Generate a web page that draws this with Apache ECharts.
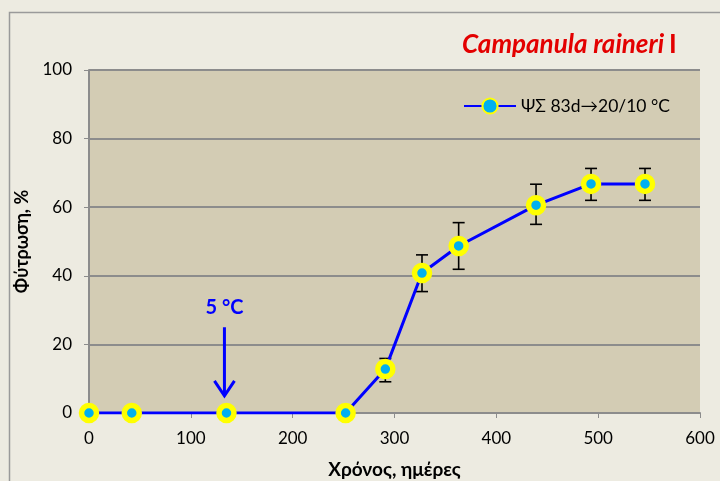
<!DOCTYPE html>
<html><head><meta charset="utf-8">
<script src="https://cdn.jsdelivr.net/npm/echarts@6/dist/echarts.min.js"></script>
<style>html,body{margin:0;padding:0;background:#EDEBE1}#c{width:720px;height:481px}</style>
</head><body><div id="c"></div>
<script>
const days = [0, 42, 135, 252, 291, 327, 363, 439, 493, 546];
const germination = [0, 0, 0, 0, 12.8, 40.8, 48.7, 60.6, 66.8, 66.8];
const errLow = [null, null, null, null, 9.1, 35.4, 41.9, 55.0, 62.0, 62.0];
const errHigh = [null, null, null, null, 15.9, 46.1, 55.5, 66.7, 71.3, 71.3];
const seriesName = 'ΨΣ 83d→20/10 °C';
const titleText = 'Campanula raineri';
const titleSuffix = 'I';
const xTitle = 'Χρόνος, ημέρες';
const yTitle = 'Φύτρωση, %';
const annotX = 133;
const annotText = '5 °C';
const arrowFrom = 25, arrowTo = 5;

const chart = echarts.init(document.getElementById('c'));
const FONT = 'Lato';
const lineData = days.map((d, i) => [d, germination[i]]);
const errData = days.map((d, i) => [d, errLow[i], errHigh[i]]).filter(r => r[1] != null);

chart.setOption({
  backgroundColor: '#EDEBE1',
  animation: false,
  graphic: [{
    type: 'rect', shape: {x: 9.5, y: 12.5, width: 760, height: 520},
    style: {fill: null, stroke: '#9a9a9a', lineWidth: 1.5}, silent: true, z: -1
  }],
  title: {
    text: '{a|' + titleText + '} {b|' + titleSuffix + '}',
    left: 457, top: 27,
    textStyle: {
      rich: {
        a: {fontFamily: FONT, fontSize: 26, fontStyle: 'italic', fontWeight: 'bold', color: '#E30000'},
        b: {fontFamily: FONT, fontSize: 26, fontWeight: 'bold', color: '#E30000'}
      }
    }
  },
  legend: {
    data: [{name: seriesName}],
    left: 458, top: 92,
    itemWidth: 52, itemHeight: 19, itemGap: 4,
    textStyle: {fontFamily: FONT, fontSize: 17.5, color: '#000'}
  },
  grid: {left: 89, right: 20, top: 70, bottom: 68, show: true, backgroundColor: '#D3CCB4', borderWidth: 0,
         containLabel: false, outerBoundsMode: 'none'},
  xAxis: {
    type: 'value', min: 0, max: 600, interval: 100,
    name: xTitle, nameLocation: 'middle', nameGap: 47,
    nameTextStyle: {fontFamily: FONT, fontSize: 19, fontWeight: 'bold', color: '#000'},
    axisLine: {show: true, onZero: false, lineStyle: {color: '#8c8c8c', width: 2}},
    axisTick: {show: true, inside: false, length: 5, lineStyle: {color: '#8c8c8c', width: 1}},
    axisLabel: {fontFamily: FONT, fontSize: 17, color: '#000', margin: 17},
    splitLine: {show: false}
  },
  yAxis: {
    type: 'value', min: 0, max: 100, interval: 20,
    name: yTitle, nameLocation: 'middle', nameGap: 48, nameRotate: 90,
    nameTextStyle: {fontFamily: FONT, fontSize: 18, fontWeight: 'bold', color: '#000'},
    axisLine: {show: true, lineStyle: {color: '#8c8c8c', width: 2}},
    axisTick: {show: true, length: 5, lineStyle: {color: '#8c8c8c', width: 1}},
    axisLabel: {fontFamily: FONT, fontSize: 17, color: '#000', margin: 17},
    splitLine: {show: true, lineStyle: {color: '#8c8c8c', width: 2}}
  },
  series: [
    {
      type: 'custom', name: 'err', z: 3, silent: true,
      renderItem: function (params, api) {
        const x = api.value(0);
        const lo = api.coord([x, api.value(1)]);
        const hi = api.coord([x, api.value(2)]);
        const hw = 6;
        const st = {stroke: '#000', lineWidth: 1.6};
        return {type: 'group', children: [
          {type: 'line', shape: {x1: lo[0], y1: lo[1], x2: hi[0], y2: hi[1]}, style: st},
          {type: 'line', shape: {x1: lo[0] - hw, y1: lo[1], x2: lo[0] + hw, y2: lo[1]}, style: st},
          {type: 'line', shape: {x1: hi[0] - hw, y1: hi[1], x2: hi[0] + hw, y2: hi[1]}, style: st}
        ]};
      },
      data: errData
    },
    {
      type: 'line', name: seriesName, data: lineData, z: 5,
      symbol: 'circle', symbolSize: 15,
      lineStyle: {color: '#0000FF', width: 3},
      itemStyle: {color: '#00B0F0', borderColor: '#FFFF00', borderWidth: 5.5}
    },
    {
      type: 'custom', name: 'annot', z: 4, silent: true,
      renderItem: function (params, api) {
        const top = api.coord([api.value(0), api.value(1)]);
        const bot = api.coord([api.value(0), api.value(2)]);
        const lbl = api.coord([api.value(0), 30.8]);
        const st = {stroke: '#0000FF', lineWidth: 3, lineCap: 'butt'};
        return {type: 'group', children: [
          {type: 'line', shape: {x1: top[0], y1: top[1], x2: bot[0], y2: bot[1] - 1}, style: st},
          {type: 'polyline', shape: {points: [[bot[0] - 10, bot[1] - 15], [bot[0], bot[1]], [bot[0] + 10, bot[1] - 15]]}, style: {stroke: '#0000FF', lineWidth: 3, fill: null}},
          {type: 'text', x: lbl[0], y: lbl[1], style: {text: annotText, fontFamily: FONT, fontSize: 20, fontWeight: 'bold', fill: '#0000FF', align: 'center', verticalAlign: 'middle'}}
        ]};
      },
      data: [[annotX, arrowFrom, arrowTo]]
    }
  ]
});
</script>
</body></html>
